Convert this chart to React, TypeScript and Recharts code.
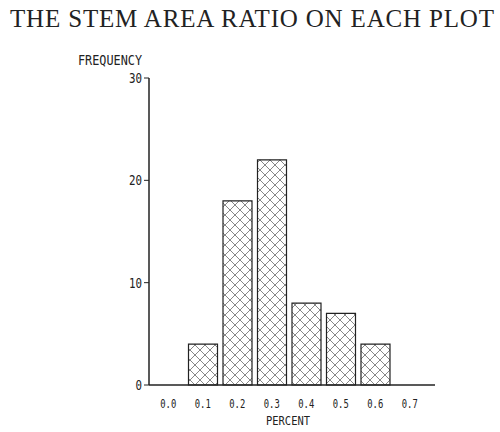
import { Bar, BarChart, XAxis, YAxis } from "recharts";

const percentBins = ["0.0", "0.1", "0.2", "0.3", "0.4", "0.5", "0.6", "0.7"];
const frequency = [null, 4, 18, 22, 8, 7, 4, null];
const freqTicks = [0, 10, 20, 30];

const data = percentBins.map((p, i) => ({ percent: p, freq: frequency[i] }));

const ink = "#222";
const mono = "'DejaVu Sans Mono', monospace";

function XTick({ x, y, payload }: any) {
  return (
    <text
      x={x}
      y={y + 15}
      textAnchor="middle"
      fontFamily={mono}
      fontSize={13}
      fill={ink}
      textLength={16}
      lengthAdjust="spacingAndGlyphs"
    >
      {payload.value}
    </text>
  );
}

function YTick({ x, y, payload }: any) {
  const s = String(payload.value);
  return (
    <text
      x={x}
      y={y + 5}
      textAnchor="end"
      fontFamily={mono}
      fontSize={14}
      fill={ink}
      textLength={s.length * 6.5}
      lengthAdjust="spacingAndGlyphs"
    >
      {s}
    </text>
  );
}

export default function App() {
  return (
    <div style={{ position: "absolute", left: 0, top: 0, width: 500, height: 432, background: "#fff" }}>
      <BarChart
        width={500}
        height={432}
        data={data}
        margin={{ top: 78, right: 65, bottom: 17, left: 0 }}
      >
        <XAxis
          dataKey="percent"
          height={30}
          padding={{ left: 2, right: 8 }}
          tickLine={false}
          axisLine={{ stroke: ink, strokeWidth: 1.5 }}
          tick={<XTick />}
          interval={0}
        />
        <YAxis
          width={149}
          domain={[0, 30]}
          ticks={freqTicks}
          tickSize={5}
          tickLine={{ stroke: ink }}
          axisLine={{ stroke: ink, strokeWidth: 1.5 }}
          tick={<YTick />}
        />
        <Bar
          dataKey="freq"
          barSize={29}
          fill="url(#xhatch)"
          stroke={ink}
          strokeWidth={1.2}
          isAnimationActive={false}
        />
      </BarChart>
      <svg
        width={500}
        height={432}
        style={{ position: "absolute", left: 0, top: 0, pointerEvents: "none" }}
      >
        <defs>
          <pattern id="xhatch" patternUnits="userSpaceOnUse" width={10} height={10}>
            <rect width={10} height={10} fill="#fff" />
            <path d="M0,0 L10,10 M0,10 L10,0" stroke="#888" strokeWidth={1} />
          </pattern>
        </defs>
        <text
          x={252}
          y={27}
          textAnchor="middle"
          fontFamily="'Liberation Serif', serif"
          fontSize={25}
          fill={ink}
          textLength={484}
        >
          THE STEM AREA RATIO ON EACH PLOT
        </text>
        <text
          x={142}
          y={65}
          textAnchor="end"
          fontFamily={mono}
          fontSize={14}
          fill={ink}
          textLength={64}
          lengthAdjust="spacingAndGlyphs"
        >
          FREQUENCY
        </text>
        <text
          x={288}
          y={425}
          textAnchor="middle"
          fontFamily={mono}
          fontSize={12}
          fill={ink}
          textLength={44}
          lengthAdjust="spacingAndGlyphs"
        >
          PERCENT
        </text>
      </svg>
    </div>
  );
}
